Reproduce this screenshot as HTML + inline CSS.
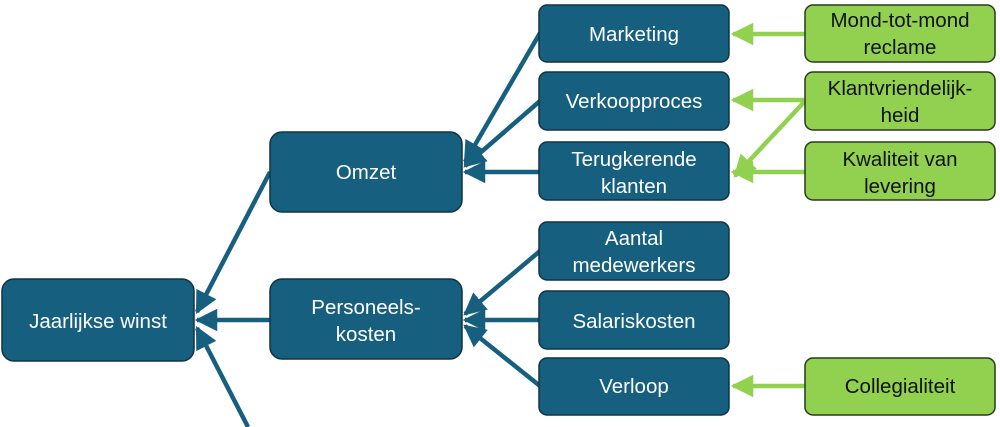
<!DOCTYPE html>
<html><head><meta charset="utf-8"><style>
html,body{margin:0;padding:0;background:#fff;width:1000px;height:427px;overflow:hidden}
</style></head><body>
<svg width="1000" height="427" viewBox="0 0 1000 427" xmlns="http://www.w3.org/2000/svg" font-family="Liberation Sans, sans-serif">
<defs>
<marker id="ab" viewBox="0 0 10 10" refX="9" refY="5" markerWidth="5" markerHeight="5" orient="auto" markerUnits="strokeWidth"><path d="M0,0 L10,5 L0,10 z" fill="#175f7f"/></marker>
<marker id="ag" viewBox="0 0 10 10" refX="9" refY="5" markerWidth="5" markerHeight="5" orient="auto" markerUnits="strokeWidth"><path d="M0,0 L10,5 L0,10 z" fill="#92d050"/></marker>
</defs>
<g stroke="#175f7f" stroke-width="4.5" marker-end="url(#ab)">
<line x1="540" y1="33" x2="465" y2="162"/>
<line x1="540" y1="101" x2="465" y2="166"/>
<line x1="540" y1="172" x2="465" y2="172"/>
<line x1="540" y1="251" x2="465" y2="314"/>
<line x1="540" y1="320" x2="465" y2="320"/>
<line x1="540" y1="386" x2="465" y2="326"/>
<line x1="270" y1="172" x2="197" y2="312"/>
<line x1="270" y1="320" x2="197" y2="320"/>
<line x1="248" y1="427" x2="197" y2="328"/>
</g>
<g stroke="#92d050" stroke-width="4.5" marker-end="url(#ag)">
<line x1="806" y1="34" x2="733" y2="34"/>
<line x1="806" y1="100" x2="733" y2="100"/>
<line x1="806" y1="100" x2="735" y2="176"/>
<line x1="806" y1="172" x2="733" y2="172"/>
<line x1="806" y1="386" x2="733" y2="386"/>
</g>
<g fill="#175f7f" stroke="#0f3345" stroke-width="1.5">
<rect x="2" y="279" width="192" height="82" rx="12"/>
<rect x="270" y="132" width="192" height="80" rx="12"/>
<rect x="270" y="279" width="192" height="80" rx="12"/>
<rect x="539" y="5" width="190" height="57" rx="8"/>
<rect x="539" y="72" width="190" height="58" rx="8"/>
<rect x="539" y="142" width="190" height="58" rx="8"/>
<rect x="539" y="222" width="190" height="58" rx="8"/>
<rect x="539" y="291" width="190" height="58" rx="8"/>
<rect x="539" y="358" width="190" height="57" rx="8"/>
</g>
<g fill="#92d050" stroke="#2a3a1a" stroke-width="1.5">
<rect x="805" y="5" width="190" height="57" rx="8"/>
<rect x="805" y="72" width="190" height="58" rx="8"/>
<rect x="805" y="142" width="190" height="58" rx="8"/>
<rect x="805" y="358" width="190" height="57" rx="8"/>
</g>
<g fill="#fff" font-size="20.5" text-anchor="middle">
<text x="98" y="328">Jaarlijkse winst</text>
<text x="366" y="179">Omzet</text>
<text x="366" y="314">Personeels-</text>
<text x="366" y="341">kosten</text>
<text x="634" y="41">Marketing</text>
<text x="634" y="108">Verkoopproces</text>
<text x="634" y="166">Terugkerende</text>
<text x="634" y="193">klanten</text>
<text x="634" y="245">Aantal</text>
<text x="634" y="272">medewerkers</text>
<text x="634" y="328">Salariskosten</text>
<text x="634" y="393">Verloop</text>
</g>
<g fill="#111" font-size="20.5" text-anchor="middle">
<text x="900" y="27">Mond-tot-mond</text>
<text x="900" y="54">reclame</text>
<text x="900" y="95">Klantvriendelijk-</text>
<text x="900" y="122">heid</text>
<text x="900" y="166">Kwaliteit van</text>
<text x="900" y="193">levering</text>
<text x="900" y="393">Collegialiteit</text>
</g>
</svg>
</body></html>
